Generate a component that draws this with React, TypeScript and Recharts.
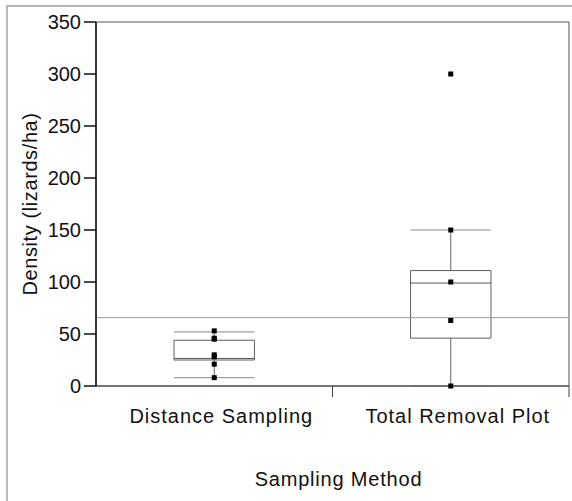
import React from 'react';
import { ComposedChart, XAxis, YAxis, Scatter, ReferenceArea, ReferenceLine } from 'recharts';

const categories = ['Distance Sampling', 'Total Removal Plot'];
const whiskerLow = [8, 0];
const q1 = [25, 46];
const median = [26.5, 99];
const q3 = [44, 111];
const whiskerHigh = [52, 150];
const distancePoints = [53, 46, 45, 30, 28, 21, 8];
const removalPoints = [300, 150, 100, 63, 0];
const grandMean = 65.7;
const yTicks = [0, 50, 100, 150, 200, 250, 300, 350];

const FONT = 'Liberation Sans, Arial, sans-serif';
const HW = 0.17;
const groups = [distancePoints, removalPoints];
const scatterData = groups.flatMap((pts, i) => pts.map((v) => ({ x: i + 0.5, y: v })));

const XTick = (props: any) => {
  const { x, y, payload } = props;
  const v = payload.value;
  if (Number.isInteger(v)) {
    return <line x1={x} y1={y} x2={x} y2={y + 11} stroke="#444" strokeWidth={1} />;
  }
  const idx = Math.floor(v);
  return (
    <text x={x + 7} y={y + 37} textAnchor="middle" fontSize={20} fontFamily={FONT} fill="#111" letterSpacing={1}>
      {categories[idx]}
    </text>
  );
};

const YLabel = (props: any) => {
  const vb = props.viewBox || { x: 0, y: 22, width: 96, height: 364 };
  const cx = vb.x + 30;
  const cy = vb.y + vb.height / 2;
  return (
    <text x={cx} y={cy} transform={`rotate(-90, ${cx}, ${cy})`} textAnchor="middle" dominantBaseline="central" fontSize={20} fontFamily={FONT} fill="#111" letterSpacing={0.6}>
      Density (lizards/ha)
    </text>
  );
};

const XLabel = (props: any) => {
  const vb = props.viewBox || { x: 96, y: 386, width: 473, height: 115 };
  return (
    <text x={vb.x + vb.width / 2 + 6} y={vb.y + 100} textAnchor="middle" fontSize={20} fontFamily={FONT} fill="#111" letterSpacing={0.8}>
      Sampling Method
    </text>
  );
};

const Square = (props: any) => {
  const { cx, cy } = props;
  return <rect x={cx - 2.5} y={cy - 2.5} width={5} height={5} fill="#000" />;
};

export default function App() {
  return (
    <div style={{ position: 'absolute', left: 0, top: 0, width: 572, height: 501, overflow: 'hidden', background: '#fff' }}>
      <div style={{ position: 'absolute', left: 6, top: 5, width: 700, height: 700, border: '2px solid #b8b8b8' }} />
      <div style={{ position: 'absolute', left: 0, top: 0 }}>
        <ComposedChart width={572} height={501} margin={{ top: 22, right: 3, bottom: 0, left: 0 }}>
          <XAxis
            type="number"
            dataKey="x"
            domain={[0, 2]}
            ticks={[0.5, 1, 1.5, 2]}
            interval={0}
            tickLine={false}
            tickSize={0}
            tickMargin={0}
            tick={<XTick />}
            axisLine={{ stroke: '#444' }}
            height={115}
            label={{ content: <XLabel /> } as any}
          />
          <YAxis
            type="number"
            dataKey="y"
            domain={[0, 350]}
            ticks={yTicks}
            interval={0}
            width={96}
            tickSize={12}
            tickMargin={3}
            tickLine={{ stroke: '#111', strokeWidth: 1.5 }}
            axisLine={{ stroke: '#111', strokeWidth: 1.5 }}
            tick={{ fontSize: 20, fill: '#111', fontFamily: FONT }}
            label={{ content: <YLabel /> } as any}
          />
          <ReferenceArea x1={0} x2={2} y1={0} y2={350} fill="none" stroke="#555" strokeWidth={1} ifOverflow="visible" />
          <ReferenceLine y={grandMean} stroke="#999" strokeWidth={1} ifOverflow="visible" />
          {categories.map((c, i) => (
            <ReferenceArea key={'box' + c} x1={i + 0.5 - HW} x2={i + 0.5 + HW} y1={q1[i]} y2={q3[i]} fill="none" stroke="#606060" strokeWidth={1} ifOverflow="visible" />
          ))}
          {categories.map((c, i) => (
            <ReferenceLine key={'med' + c} segment={[{ x: i + 0.5 - HW, y: median[i] }, { x: i + 0.5 + HW, y: median[i] }]} stroke="#555" strokeWidth={1} ifOverflow="visible" />
          ))}
          {categories.map((c, i) => (
            <ReferenceLine key={'wh' + c} segment={[{ x: i + 0.5, y: q3[i] }, { x: i + 0.5, y: whiskerHigh[i] }]} stroke="#666" strokeWidth={1} ifOverflow="visible" />
          ))}
          {categories.map((c, i) => (
            <ReferenceLine key={'wl' + c} segment={[{ x: i + 0.5, y: q1[i] }, { x: i + 0.5, y: whiskerLow[i] }]} stroke="#666" strokeWidth={1} ifOverflow="visible" />
          ))}
          {categories.map((c, i) => (
            <ReferenceLine key={'ch' + c} segment={[{ x: i + 0.5 - HW, y: whiskerHigh[i] }, { x: i + 0.5 + HW, y: whiskerHigh[i] }]} stroke="#888" strokeWidth={1} ifOverflow="visible" />
          ))}
          {categories.map((c, i) => (
            <ReferenceLine key={'cl' + c} segment={[{ x: i + 0.5 - HW, y: whiskerLow[i] }, { x: i + 0.5 + HW, y: whiskerLow[i] }]} stroke="#888" strokeWidth={1} ifOverflow="visible" />
          ))}
          <Scatter data={scatterData} shape={<Square />} isAnimationActive={false} />
        </ComposedChart>
      </div>
    </div>
  );
}
